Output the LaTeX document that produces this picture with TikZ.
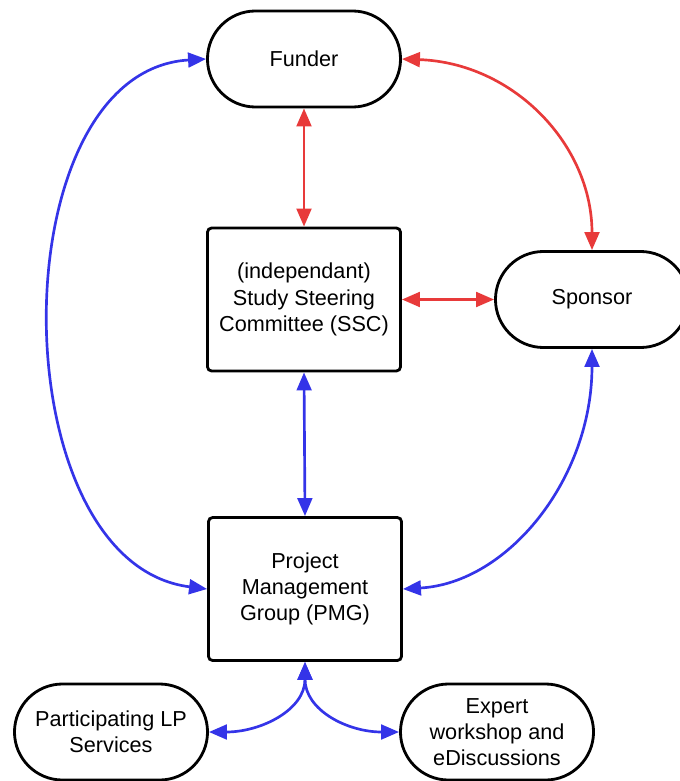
\documentclass[tikz,border=0pt]{standalone}
\usepackage{fontspec}
\setmainfont{Liberation Sans}
\usetikzlibrary{arrows.meta,shapes.misc}
\definecolor{linkred}{RGB}{232,58,58}
\definecolor{linkblue}{RGB}{52,52,232}
\begin{document}
\begin{tikzpicture}[x=0.025cm, y=-0.025cm,
    pill/.style={draw, line width=2pt, rounded rectangle, minimum width=4.825cm,
                 minimum height=2.4cm, inner sep=0pt, align=center},
    board/.style={draw, line width=2pt, rounded corners=3pt, minimum width=4.825cm,
                  minimum height=3.575cm, inner sep=0pt, align=center},
    link/.style={line width=1.9pt, {Triangle[length=0.45cm, width=0.37cm]}-{Triangle[length=0.45cm, width=0.37cm]}},
    font=\fontsize{15.4}{18.7}\selectfont]

    % 1. Page size
    \useasboundingbox (0,0) rectangle (679,781);

    % 2. The bodies
    \node [pill]  (fund)   at (304,59)  {Funder};
    \node [board] (ssc)    at (304,299.5) {(independant)\\Study Steering\\Committee (SSC)};
    \node [pill]  (spons)  at (592,299.5) {Sponsor};
    \node [board] (pmg)    at (305,589) {Project\\Management\\Group (PMG)};
    \node [pill]  (lps)    at (111,732) {Participating LP\\Services};
    \node [pill]  (expert) at (497,732) {Expert\\workshop and\\eDiscussions};

    % 3. Red links (funder side)
    \draw [link, linkred] (fund.south) -- (ssc.north);
    \draw [link, linkred] (ssc.east) -- (spons.west);
    \draw [link, linkred] (fund.east) .. controls +(112,4) and +(0,-105) .. (spons.north);

    % 4. Blue links (management side)
    \draw [link, linkblue] (fund.west) .. controls +(-208,12) and +(-208,-26) .. (pmg.west);
    \draw [link, linkblue] (ssc.south) -- (pmg.north);
    \draw [link, linkblue] (spons.south) .. controls +(0,130) and +(105,-6) .. (pmg.east);

    % 5. Links down to the working groups
    \draw [link, linkblue] (pmg.south) .. controls +(0,48) and +(52,0) .. (lps.east);
    \draw [link, linkblue] (pmg.south) .. controls +(0,48) and +(-52,0) .. (expert.west);

\end{tikzpicture}
\end{document}
